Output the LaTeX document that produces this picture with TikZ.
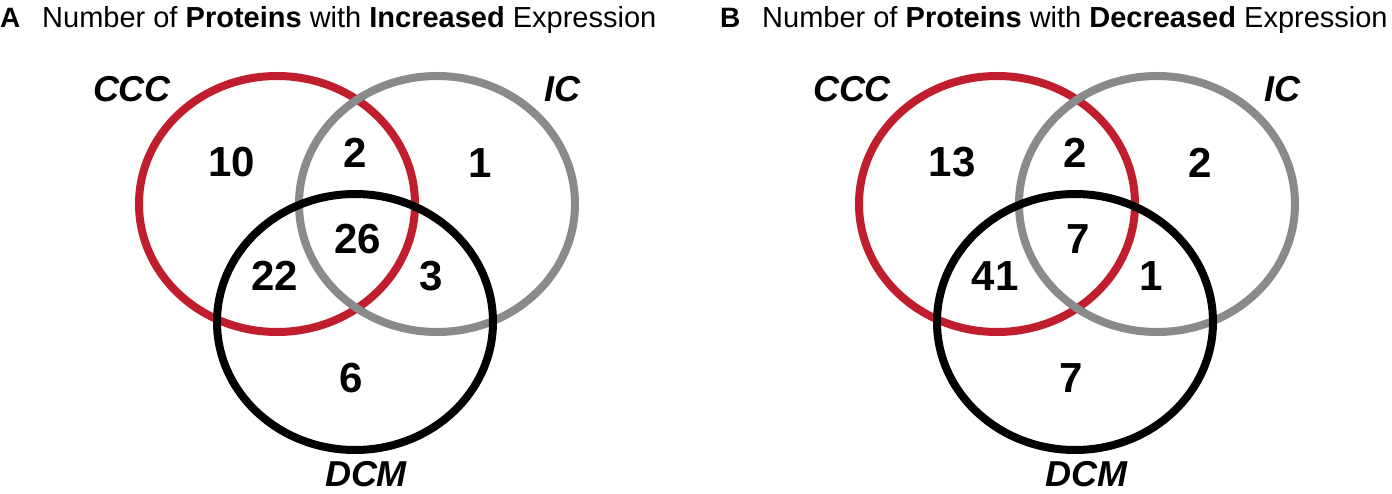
\documentclass[tikz,border=0pt]{standalone}
\usepackage{fontspec}
\setmainfont{Liberation Sans}
\definecolor{cccred}{RGB}{192,30,45}
\definecolor{icgray}{RGB}{138,138,138}
\tikzset{
  ring/.style={line width=8pt},
  num/.style={font=\fontsize{42}{42}\selectfont\bfseries, inner sep=0pt},
  setlab/.style={font=\fontsize{36}{36}\selectfont\bfseries\itshape, inner sep=0pt},
  panellab/.style={font=\fontsize{28}{28}\selectfont\bfseries, anchor=base west, inner sep=0pt},
  titletext/.style={font=\fontsize{29}{29}\selectfont, anchor=base west, inner sep=0pt},
}
\begin{document}
\begin{tikzpicture}[x=1pt,y=-1pt]
\useasboundingbox[fill=white] (0,0) rectangle (1392,494);
\foreach \dx/\pl/\word/\na/\nb/\nc/\nd/\ne/\nf/\ng in
  {0/A/Increased/10/2/1/26/22/3/6, 720/B/Decreased/13/2/2/7/41/1/7}{
\begin{scope}[shift={(\dx,0)}]
  \node[panellab] (pl\pl) at (0,28) {\pl};
  \node[titletext] (title\pl) at (42,28) {Number of \textbf{Proteins} with \textbf{\word} Expression};
  \draw[ring, cccred] (277,204) ellipse [x radius=138pt, y radius=128pt];
  \draw[ring, icgray] (437,204) ellipse [x radius=138pt, y radius=128pt];
  \draw[ring, black] (355,322) ellipse [x radius=138pt, y radius=128pt];
  \node[setlab] (ccc\pl) at (132,89) {CCC};
  \node[setlab] (ic\pl) at (562,89) {IC};
  \node[setlab] (dcm\pl) at (366,474) {DCM};
  \node[num] (ccconly\pl) at (232,162) {\na};
  \node[num] (cccic\pl) at (355,153) {\nb};
  \node[num] (iconly\pl) at (480,163) {\nc};
  \node[num] (all\pl) at (358,239) {\nd};
  \node[num] (cccdcm\pl) at (275,276) {\ne};
  \node[num] (icdcm\pl) at (431,276) {\nf};
  \node[num] (dcmonly\pl) at (351,378) {\ng};
\end{scope}
}
\end{tikzpicture}
\end{document}
